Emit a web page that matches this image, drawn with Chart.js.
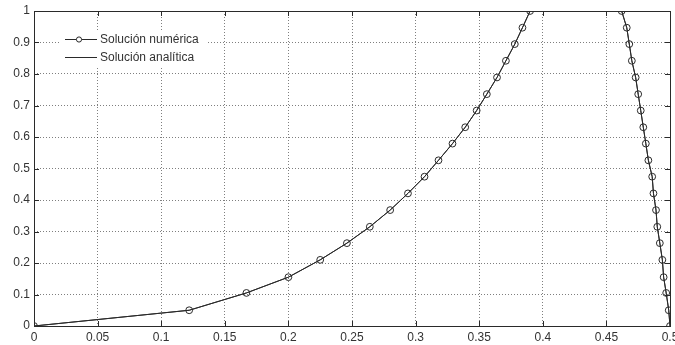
<!DOCTYPE html>
<html>
<head>
<meta charset="utf-8">
<script src="https://cdn.jsdelivr.net/npm/chart.js@4/dist/chart.umd.min.js"></script>
<style>
    html, body { margin: 0; padding: 0; background: #ffffff; }
    #wrap { position: relative; width: 675px; height: 345px; }
</style>
</head>
<body>
<div id="wrap"><canvas id="chart" width="675" height="345"></canvas></div>
<script>
// nodes in y (shared by both branches)
const yNodes = [0, 0.05, 0.105, 0.155, 0.21, 0.263, 0.315, 0.368, 0.421, 0.474,
    0.526, 0.579, 0.631, 0.684, 0.736, 0.789, 0.842, 0.895, 0.947, 1];
// left branch x
const xLeft = [0, 0.122, 0.167, 0.2, 0.225, 0.246, 0.264, 0.28, 0.294, 0.307,
    0.318, 0.329, 0.339, 0.348, 0.356, 0.364, 0.371, 0.378, 0.384, 0.39];
// right branch x, same y order (bottom to top)
const xRight = [0.5, 0.499, 0.497, 0.495, 0.494, 0.492, 0.49, 0.489, 0.487, 0.486,
    0.483, 0.481, 0.479, 0.477, 0.475, 0.473, 0.47, 0.468, 0.466, 0.462];

const xTicks = [0, 0.05, 0.1, 0.15, 0.2, 0.25, 0.3, 0.35, 0.4, 0.45, 0.5];
const yTicks = [0, 0.1, 0.2, 0.3, 0.4, 0.5, 0.6, 0.7, 0.8, 0.9, 1];
const legendLabels = ['Solución numérica', 'Solución analítica'];

const toPoints = () => {
    const left = xLeft.map((x, i) => ({ x, y: yNodes[i] }));
    const right = xRight.map((x, i) => ({ x, y: yNodes[i] })).reverse();
    return [...left, { x: null, y: null }, ...right];
};

const font = { family: 'Liberation Sans, Arial, sans-serif', size: 12 };
const ink = '#2a2a2a';

// frame + inward ticks on all four sides, like matlab axes
const matlabFrame = {
    id: 'matlabFrame',
    afterDatasetsDraw(chart) {
        const { ctx, chartArea: a, scales } = chart;
        const len = 5;
        ctx.save();
        ctx.strokeStyle = ink;
        ctx.lineWidth = 1;
        ctx.beginPath();
        xTicks.forEach((v) => {
            const px = Math.round(scales.x.getPixelForValue(v)) + 0.5;
            ctx.moveTo(px, a.bottom); ctx.lineTo(px, a.bottom - len);
            ctx.moveTo(px, a.top); ctx.lineTo(px, a.top + len);
        });
        yTicks.forEach((v) => {
            const py = Math.round(scales.y.getPixelForValue(v)) + 0.5;
            ctx.moveTo(a.left, py); ctx.lineTo(a.left + len, py);
            ctx.moveTo(a.right, py); ctx.lineTo(a.right - len, py);
        });
        ctx.stroke();
        ctx.strokeRect(Math.round(a.left) + 0.5, Math.round(a.top) + 0.5,
            Math.round(a.right - a.left), Math.round(a.bottom - a.top));
        ctx.restore();
    },
};

// legend box inside the axes, top left
const insideLegend = {
    id: 'insideLegend',
    afterDraw(chart) {
        const { ctx } = chart;
        ctx.save();
        ctx.fillStyle = '#ffffff';
        ctx.fillRect(61, 30, 146, 37);
        ctx.strokeStyle = ink;
        ctx.lineWidth = 1;
        const rows = [39.5, 57.5];
        rows.forEach((y, i) => {
            ctx.beginPath();
            ctx.moveTo(65, y); ctx.lineTo(97, y);
            ctx.stroke();
            if (i === 0) {
                ctx.beginPath();
                ctx.arc(79, y, 2.6, 0, Math.PI * 2);
                ctx.fillStyle = '#ffffff';
                ctx.fill();
                ctx.stroke();
            }
            ctx.fillStyle = '#333333';
            ctx.font = `${font.size}px ${font.family}`;
            ctx.textBaseline = 'middle';
            ctx.fillText(legendLabels[i], 100, y);
        });
        ctx.restore();
    },
};

const whiteBg = {
    id: 'whiteBg',
    beforeDraw(chart) {
        const { ctx, width, height } = chart;
        ctx.save();
        ctx.fillStyle = '#ffffff';
        ctx.fillRect(0, 0, width, height);
        ctx.restore();
    },
};

new Chart(document.getElementById('chart'), {
    type: 'scatter',
    data: {
        datasets: [
            {
                label: legendLabels[1],
                data: toPoints(),
                showLine: true,
                spanGaps: false,
                borderColor: ink,
                borderWidth: 1,
                pointRadius: 0,
                tension: 0,
            },
            {
                label: legendLabels[0],
                data: toPoints(),
                showLine: true,
                spanGaps: false,
                borderColor: ink,
                borderWidth: 1,
                pointRadius: 3.4,
                pointBorderWidth: 1,
                pointBorderColor: ink,
                pointBackgroundColor: 'rgba(0,0,0,0)',
                tension: 0,
            },
        ],
    },
    options: {
        responsive: false,
        animation: false,
        layout: {
            padding: { top: 11, right: 5, left: 0, bottom: 0 },
        },
        plugins: {
            legend: { display: false },
            tooltip: { enabled: false },
        },
        scales: {
            x: {
                type: 'linear',
                min: 0,
                max: 0.5,
                afterBuildTicks: (scale) => {
                    scale.ticks = xTicks.map((value) => ({ value }));
                },
                afterFit: (scale) => {
                    scale.height = 19;
                    scale.paddingLeft = 0;
                    scale.paddingRight = 0;
                },
                grid: {
                    color: 'rgba(0,0,0,0.5)',
                    drawTicks: false,
                    tickBorderDash: [1, 2],
                },
                border: { display: false, dash: [1, 2] },
                ticks: {
                    color: '#333333',
                    font,
                    padding: 4,
                    maxRotation: 0,
                    autoSkip: false,
                    callback: (v) => String(v),
                },
            },
            y: {
                type: 'linear',
                min: 0,
                max: 1,
                afterBuildTicks: (scale) => {
                    scale.ticks = yTicks.map((value) => ({ value }));
                },
                afterFit: (scale) => {
                    scale.width = 34;
                    scale.paddingTop = 0;
                    scale.paddingBottom = 0;
                },
                grid: {
                    color: 'rgba(0,0,0,0.5)',
                    drawTicks: false,
                },
                border: { display: false, dash: [1, 2] },
                ticks: {
                    color: '#333333',
                    font,
                    padding: 4,
                    autoSkip: false,
                    callback: (v) => String(v),
                },
            },
        },
    },
    plugins: [whiteBg, matlabFrame, insideLegend],
});
</script>
</body>
</html>
